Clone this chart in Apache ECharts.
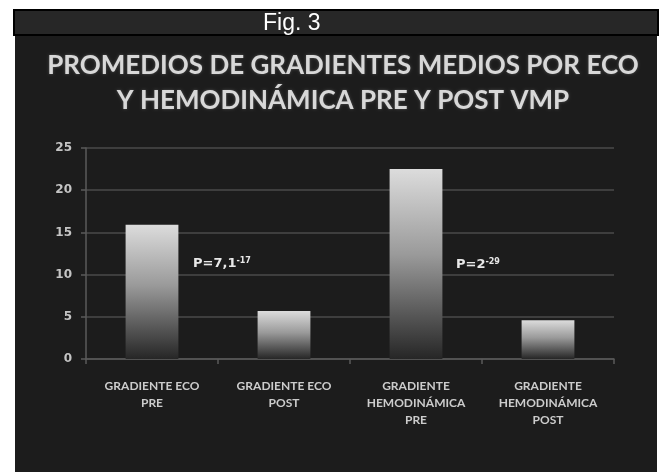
<!DOCTYPE html>
<html>
<head>
<meta charset="utf-8">
<script src="https://cdn.jsdelivr.net/npm/echarts@6/dist/echarts.min.js"></script>
<style>
  html, body { margin: 0; padding: 0; background: #fff; }
  #chart { width: 663px; height: 472px; }
</style>
</head>
<body>
<div id="chart"></div>
<script>
// datos
const categorias = [
  'GRADIENTE ECO\nPRE',
  'GRADIENTE ECO\nPOST',
  'GRADIENTE\nHEMODINÁMICA\nPRE',
  'GRADIENTE\nHEMODINÁMICA\nPOST'
]
const gradientes = [15.9, 5.7, 22.5, 4.6]
const yTicks = [0, 5, 10, 15, 20, 25]
const anotaciones = [
  { base: 'P=7,1', exp: '-17', x: 193, y: 257 },
  { base: 'P=2', exp: '-29', x: 456, y: 258 }
]

const chart = echarts.init(document.getElementById('chart'))

const option = {
  backgroundColor: '#ffffff',
  animation: false,
  title: {
    text: 'PROMEDIOS DE GRADIENTES MEDIOS POR ECO\nY HEMODINÁMICA PRE Y POST VMP',
    left: 338,
    top: 43,
    textAlign: 'center',
    textStyle: {
      fontFamily: 'Lato',
      fontWeight: 'bold',
      fontSize: 26,
      lineHeight: 35,
      color: '#d8d8d8',
      textShadowColor: 'rgba(255,255,255,0.25)',
      textShadowBlur: 3
    }
  },
  grid: {
    left: 86,
    right: 49,
    top: 148,
    bottom: 113
  },
  xAxis: {
    type: 'category',
    data: categorias,
    axisLine: { lineStyle: { color: '#5a5a5a', width: 1.5 } },
    axisTick: { show: true, length: 5, lineStyle: { color: '#5a5a5a', width: 1.5 } },
    axisLabel: {
      interval: 0,
      margin: 19,
      fontFamily: 'Lato',
      fontWeight: 'bold',
      fontSize: 12,
      lineHeight: 17,
      color: '#cccccc'
    }
  },
  yAxis: {
    type: 'value',
    min: yTicks[0],
    max: yTicks[yTicks.length - 1],
    interval: 5,
    axisLine: { show: true, lineStyle: { color: '#5a5a5a', width: 1.5 } },
    axisTick: { show: true, length: 5, lineStyle: { color: '#5a5a5a', width: 1.5 } },
    axisLabel: {
      margin: 14,
      fontFamily: 'DejaVu Sans',
      fontWeight: 'bold',
      fontSize: 12,
      color: '#c4c4c4'
    },
    splitLine: { lineStyle: { color: '#4a4a4a', width: 1.5 } }
  },
  series: [
    {
      type: 'bar',
      data: gradientes,
      barWidth: '40%',
      itemStyle: {
        color: {
          type: 'linear',
          x: 0, y: 0, x2: 0, y2: 1,
          colorStops: [
            { offset: 0, color: '#dcdcdc' },
            { offset: 0.45, color: '#9a9a9a' },
            { offset: 1, color: '#262626' }
          ]
        }
      }
    }
  ],
  graphic: [
    // panel oscuro
    {
      type: 'rect',
      z: -10,
      shape: { x: 15, y: 35, width: 642, height: 437 },
      style: { fill: '#1c1c1c' }
    },
    // barra de encabezado
    {
      type: 'rect',
      z: -5,
      shape: { x: 14, y: 10, width: 644, height: 25 },
      style: { fill: '#272727', stroke: '#000', lineWidth: 2 }
    },
    {
      type: 'text',
      z: 10,
      left: 263,
      top: 12,
      style: {
        text: 'Fig. 3',
        fill: '#ffffff',
        font: '23px "Liberation Sans", Arial, sans-serif'
      }
    }
  ].concat(anotaciones.map(a => ({
    type: 'text',
    z: 10,
    left: a.x,
    top: a.y,
    style: {
      text: '{b|' + a.base + '}{s|' + a.exp + '}',
      rich: {
        b: {
          fontFamily: 'DejaVu Sans',
          fontWeight: 'bold',
          fontSize: 13,
          fill: '#e8e8e8',
          verticalAlign: 'bottom'
        },
        s: {
          fontFamily: 'DejaVu Sans',
          fontWeight: 'bold',
          fontSize: 8,
          fill: '#e8e8e8',
          verticalAlign: 'top'
        }
      }
    }
  })))
}

chart.setOption(option)
window.addEventListener('resize', function () {
  chart.resize()
})
</script>
</body>
</html>
